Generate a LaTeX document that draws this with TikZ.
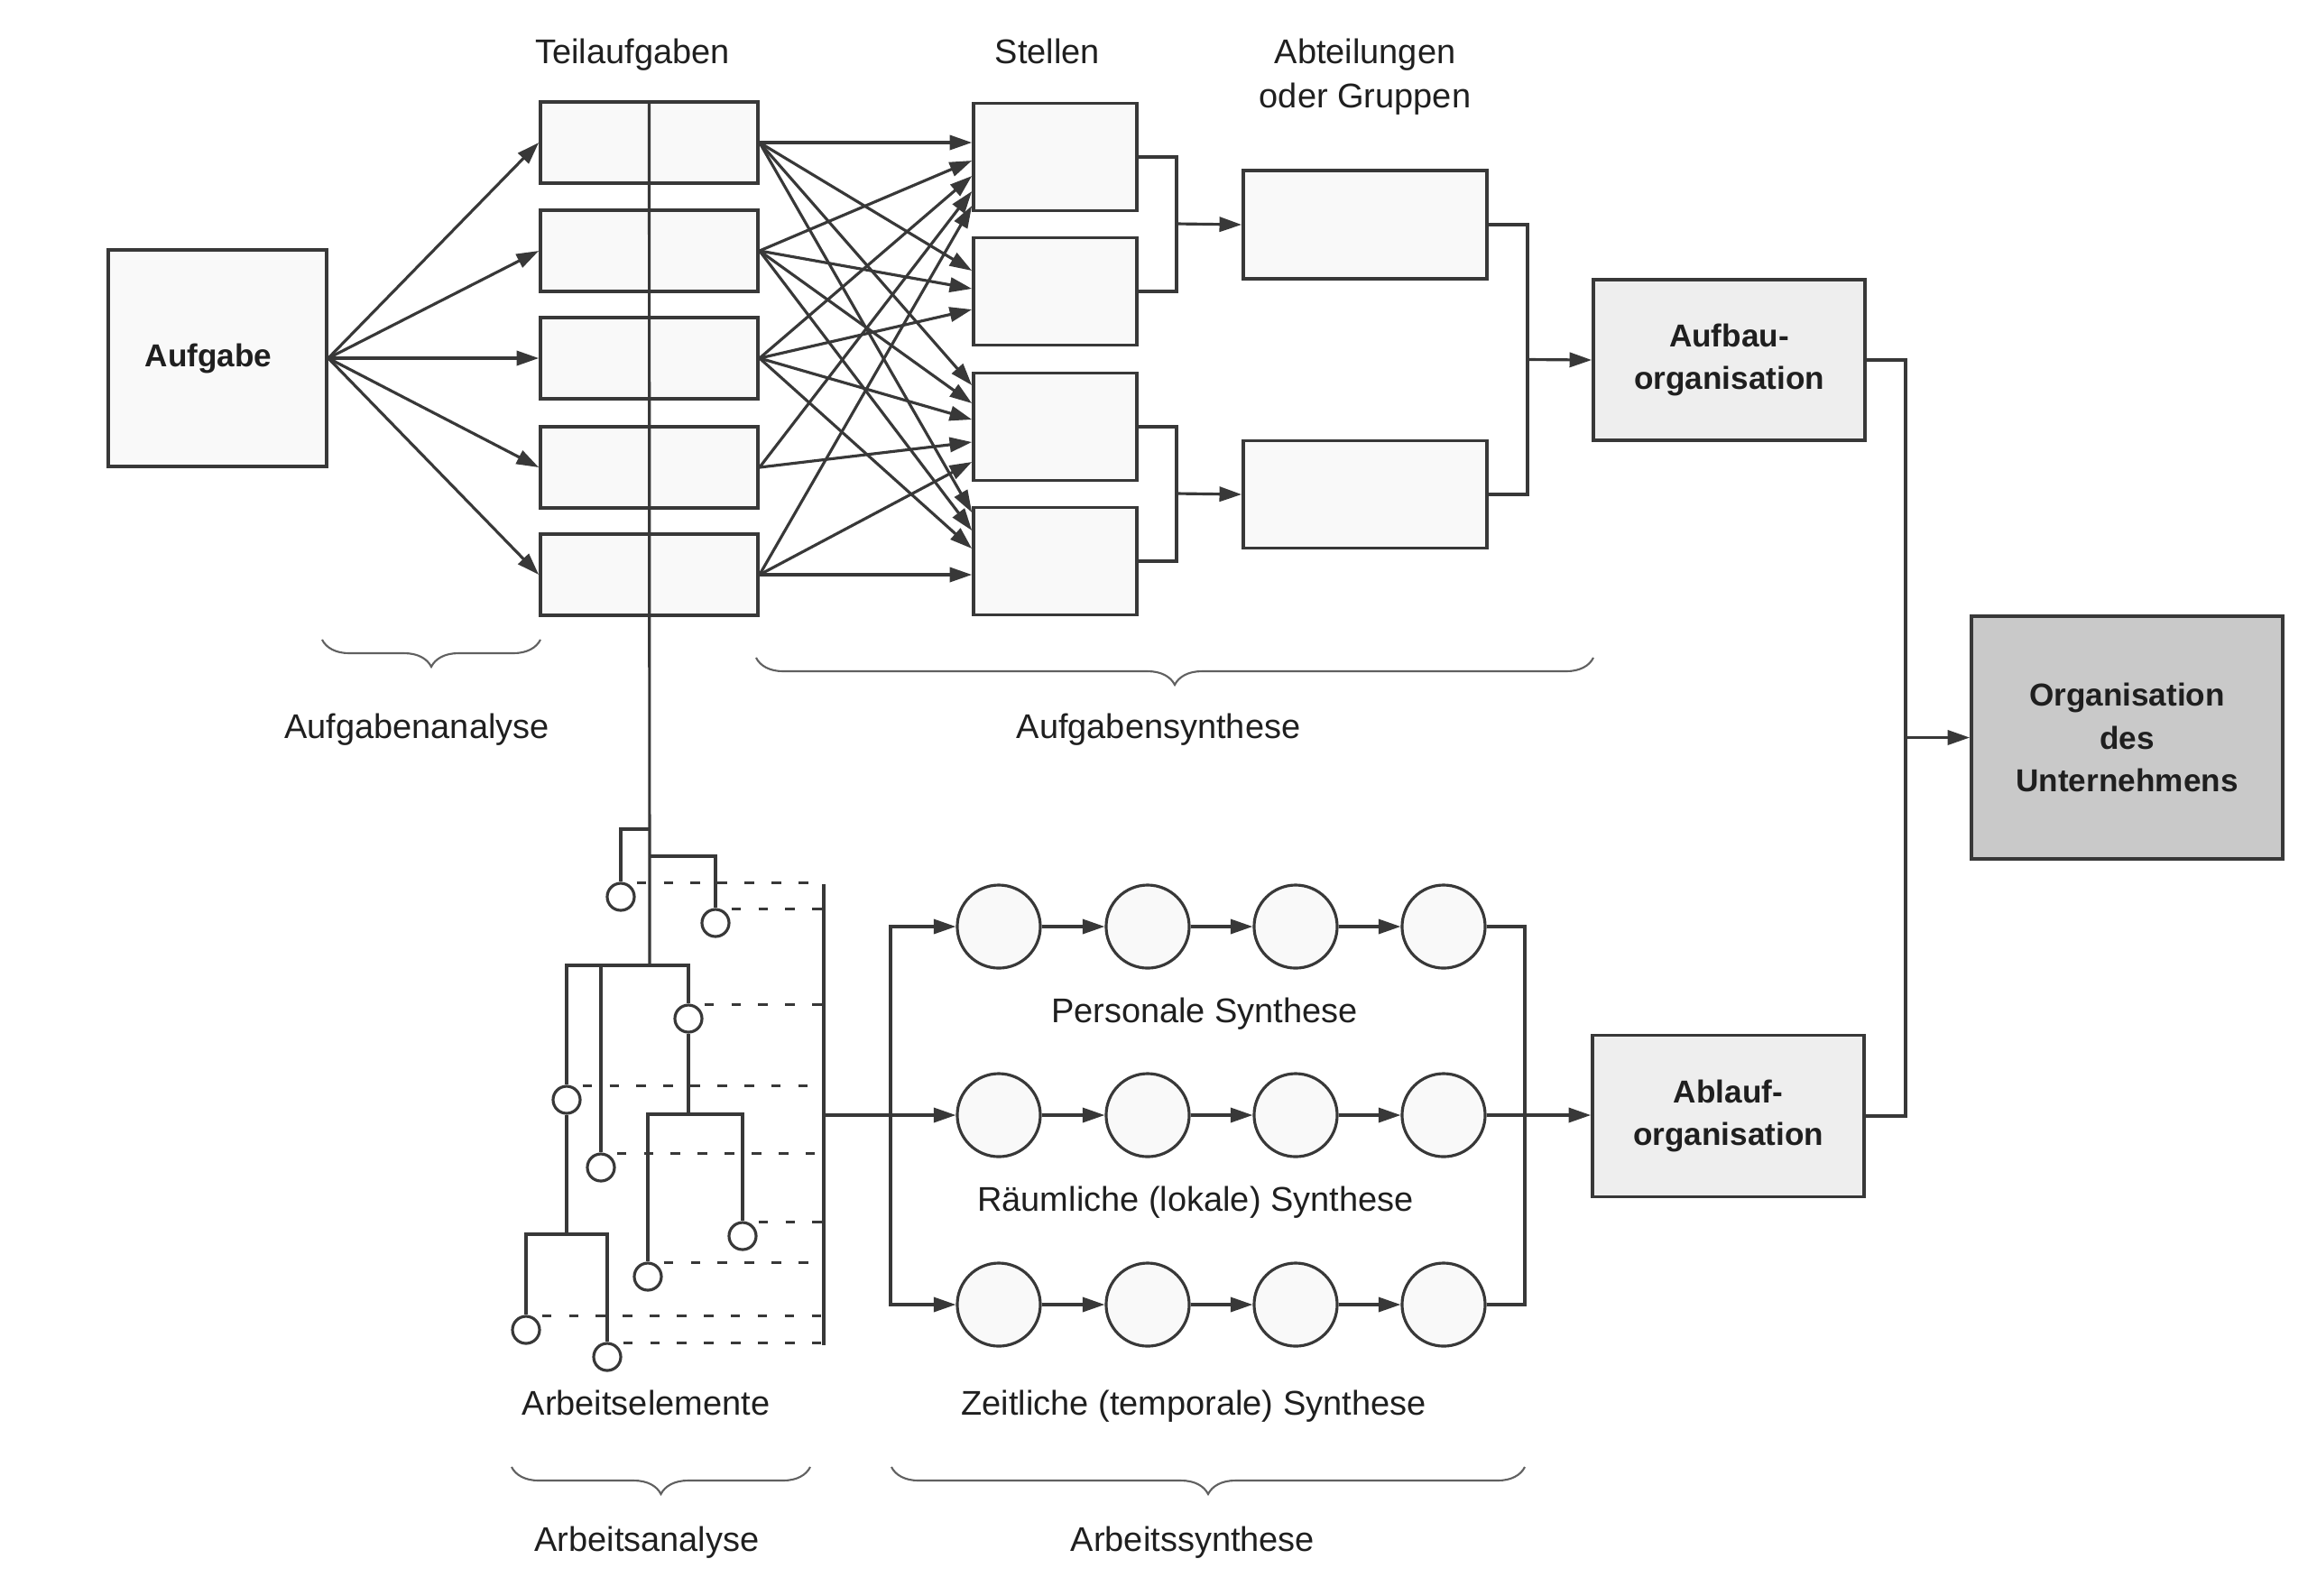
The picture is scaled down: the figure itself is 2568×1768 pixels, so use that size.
\documentclass[tikz,border=0pt]{standalone}
\usepackage{fontspec}
\setmainfont{Liberation Sans}
\usetikzlibrary{arrows.meta,decorations.pathreplacing,calc}
\definecolor{lc}{gray}{0.22}
\definecolor{boxfill}{gray}{0.975}
\definecolor{midfill}{gray}{0.935}
\definecolor{orgfill}{gray}{0.79}
\definecolor{txt}{gray}{0.12}
\begin{document}
\begin{tikzpicture}[x=0.01cm,y=-0.01cm,
  font=\fontsize{10.8pt}{13.5pt}\selectfont, text=txt,
  ln/.style={draw=lc,line width=0.9pt},
  arr/.style={ln,-{Triangle[length=7pt,width=4.6pt]}},
  box/.style={draw=lc,line width=1pt,fill=boxfill,inner sep=0pt,align=center},
  bbox/.style={box,font=\fontsize{10pt}{13.5pt}\selectfont\bfseries},
  circ/.style={draw=lc,line width=0.9pt,fill=boxfill,circle,inner sep=0pt,minimum size=0.92cm},
  elem/.style={draw=lc,line width=0.9pt,fill=white,circle,inner sep=0pt,minimum size=0.30cm},
  dashline/.style={draw=lc,line width=0.9pt,dash pattern=on 3pt off 5.5pt},
  brc/.style={draw=lc!80,line width=0.6pt,decorate,decoration={brace,mirror,amplitude=0.3cm}},
  lbl/.style={anchor=base,inner sep=0pt}
]
\useasboundingbox (0,0) rectangle (2568,1768);

% --- boxes
\node[bbox,minimum width=2.42cm,minimum height=2.40cm] (A) at (241,397) {Aufgabe\hspace*{0.2cm}};
\foreach \i/\y in {1/158,2/278,3/397,4/518,5/637}
  \node[box,minimum width=2.41cm,minimum height=0.90cm] (T\i) at (719.5,\y) {};
\foreach \i/\y in {1/174,2/323,3/473,4/622}
  \node[box,minimum width=1.81cm,minimum height=1.19cm] (S\i) at (1169.5,\y) {};
\node[box,minimum width=2.70cm,minimum height=1.20cm] (Ab1) at (1513,249) {};
\node[box,minimum width=2.70cm,minimum height=1.19cm] (Ab2) at (1513,548) {};
\node[bbox,fill=midfill,minimum width=3.01cm,minimum height=1.78cm] (Aufbau) at (1916.5,399) {Aufbau-\\organisation};
\node[bbox,fill=midfill,minimum width=3.01cm,minimum height=1.79cm] (Ablauf) at (1915.5,1237) {Ablauf-\\organisation};
\node[bbox,fill=orgfill,minimum width=3.45cm,minimum height=2.69cm] (Org) at (2357.5,817.5) {Organisation\\des\\Unternehmens};

% --- headings and labels
\node[lbl] (hT) at (701,70) {Teilaufgaben};
\node[lbl] (hS) at (1161,70) {Stellen};
\node[lbl] (hA1) at (1513,70) {Abteilungen};
\node[lbl] (hA2) at (1513,119) {oder Gruppen};
\node[lbl] (lAa) at (462,818) {Aufgabenanalyse};
\node[lbl] (lAs) at (1284,818) {Aufgabensynthese};
\node[lbl] (lPS) at (1335,1133) {Personale Synthese};
\node[lbl] (lRS) at (1325,1342) {Räumliche (lokale) Synthese};
\node[lbl] (lZS) at (1323,1568) {Zeitliche (temporale) Synthese};
\node[lbl] (lAe) at (716,1568) {Arbeitselemente};
\node[lbl] (lArA) at (717,1719) {Arbeitsanalyse};
\node[lbl] (lArS) at (1322,1719) {Arbeitssynthese};

% --- braces
\coordinate (br1a) at (357,709);  \coordinate (br1b) at (599,709);
\coordinate (br2a) at (838,729);  \coordinate (br2b) at (1766,729);
\coordinate (br3a) at (567,1626); \coordinate (br3b) at (898,1626);
\coordinate (br4a) at (988,1626); \coordinate (br4b) at (1690,1626);
\draw[brc] (br1a) -- (br1b);
\draw[brc] (br2a) -- (br2b);
\draw[brc] (br3a) -- (br3b);
\draw[brc] (br4a) -- (br4b);

% --- Aufgabe -> Teilaufgaben
\foreach \i in {1,...,5} \draw[arr] (A.east) -- (T\i.west);

% --- Teilaufgaben -> Stellen
\foreach \t/\s/\y in {1/1/158,2/1/178,3/1/195,4/1/212,5/1/228,
                      1/2/300,2/2/320,3/2/343,
                      1/3/427,2/3/447,3/3/465,4/3/490,5/3/512,
                      1/4/568,2/4/588,3/4/608,5/4/637}
  \draw[arr] (T\t.east) -- (S\s.west |- 0,\y);

% --- Stellen -> Abteilungen
\coordinate (b1) at (1304,248);
\coordinate (b2) at (1304,547);
\draw[ln] (S1.east) -| (b1) |- (S2.east);
\draw[ln] (S3.east) -| (b2) |- (S4.east);
\draw[arr] (b1) -- (Ab1.west);
\draw[arr] (b2) -- (Ab2.west);
\coordinate (b3) at (1693,398.5);
\draw[ln] (Ab1.east) -| (b3) |- (Ab2.east);
\draw[arr] (b3) -- (Aufbau.west);

% --- to Organisation des Unternehmens
\coordinate (b4) at (2112,817.5);
\draw[ln] (Aufbau.east) -| (b4) |- (Ablauf.east);
\draw[arr] (b4) -- (Org.west);

% --- Arbeitselemente tree
\coordinate (m0) at (720,1070);
\coordinate (j1) at (720,919);
\coordinate (j2) at (720,949);
\draw[ln] (T1.north) -- (m0);
\node[elem] (e1) at (688,994) {};
\node[elem] (e2) at (793,1023) {};
\node[elem] (e3) at (763,1129) {};
\node[elem] (e4) at (628,1219) {};
\node[elem] (e5) at (666,1294) {};
\node[elem] (e6) at (823,1370) {};
\node[elem] (e7) at (718,1415) {};
\node[elem] (e8) at (583,1474) {};
\node[elem] (e9) at (673,1504) {};
\draw[ln] (j1) -| (e1);
\draw[ln] (j2) -| (e2);
\draw[ln] (e4.north) -- (e4.north |- m0) -- (e3.north |- m0) -- (e3.north);
\draw[ln] (e5.north) -- (e5.north |- m0);
\coordinate (k1) at (763,1235);
\coordinate (k2) at (628,1368);
\draw[ln] (e3.south) -- (k1);
\draw[ln] (e7) |- (k1) -| (e6);
\draw[ln] (e4.south) -- (k2);
\draw[ln] (e8) |- (k2) -| (e9);

% dashed links to collecting bar
\coordinate (barT) at (913,980);
\coordinate (barB) at (913,1491);
\coordinate (barO) at (913,1236);
\draw[ln] (barT) -- (barB);
\foreach \e in {1,...,9}
  \draw[dashline] ($(e\e.70)+(12,0)$) -- (e\e.70 -| barT);

% --- Arbeitssynthese circles
\foreach \r/\y in {1/1027,2/1236,3/1446}
  \foreach \c/\x in {1/1107,2/1272,3/1436,4/1600}
    \node[circ] (c\r\c) at (\x,\y) {};
\foreach \r in {1,2,3}{
  \draw[arr] (c\r1) -- (c\r2);
  \draw[arr] (c\r2) -- (c\r3);
  \draw[arr] (c\r3) -- (c\r4);
}
\coordinate (fl) at (987,1236);
\coordinate (fr) at (1690,1236);
\draw[arr] (barO) -- (c21);
\draw[arr] (fl) |- (c11);
\draw[arr] (fl) |- (c31);
\draw[ln] (c14) -| (fr) |- (c34);
\draw[arr] (c24) -- (Ablauf.west |- c24);
\end{tikzpicture}
\end{document}
